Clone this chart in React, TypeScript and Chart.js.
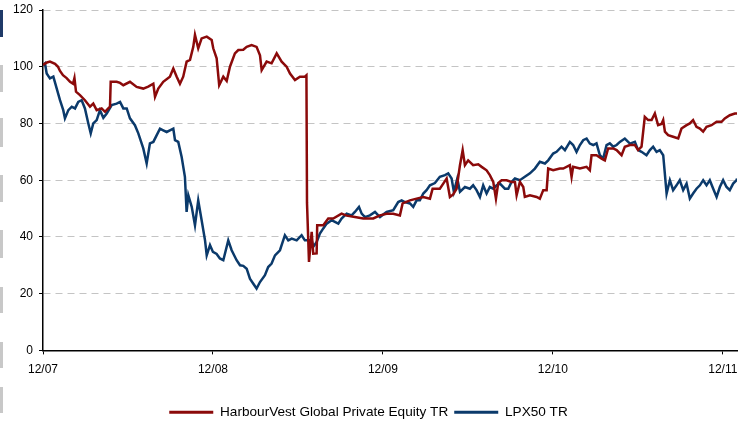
import { useEffect, useRef } from 'react';
import { Chart, registerables } from 'chart.js';

Chart.register(...registerables);

// months since Dec 2007
const hvMonths = [
  0, 0.28, 0.49, 0.85, 1.06, 1.2, 1.41, 1.67, 1.91, 2.12, 2.22, 2.33, 2.61, 2.96, 3.32, 3.55, 3.79, 4.14, 4.38, 4.61, 4.73,
  4.78, 5.2, 5.44, 5.67, 6.14, 6.61, 7.08, 7.43, 7.79, 7.91, 8.14, 8.49, 8.96, 9.2, 9.44, 9.67, 9.9, 10.14, 10.38, 10.61,
  10.73, 10.96, 11.2, 11.56, 11.91, 12.02, 12.26, 12.44, 12.73, 12.97, 13.2, 13.55, 13.79, 14.14, 14.38, 14.73, 15.08,
  15.32, 15.44, 15.79, 16.14, 16.5, 16.85, 17.2, 17.44, 17.79, 18.14, 18.49, 18.6, 18.64, 18.78, 18.97, 19.08, 19.32,
  19.36, 19.79, 20.14, 20.49, 21.08, 21.44, 22.02, 22.61, 23.32, 23.79, 24.26, 24.73, 25.2, 25.39, 25.91, 26.38, 26.85,
  27.32, 27.51, 28.02, 28.26, 28.5, 28.73, 28.96, 29.2, 29.44, 29.63, 29.79, 30.02, 30.37, 30.73, 30.97, 31.32, 31.55,
  31.79, 31.98, 32.14, 32.38, 32.73, 33.08, 33.32, 33.44, 33.67, 33.91, 34.02, 34.38, 34.85, 35.08, 35.32, 35.56, 35.67,
  36.02, 36.49, 36.73, 37.2, 37.32, 37.43, 37.91, 38.38, 38.61, 38.73, 39.08, 39.44, 39.67, 39.9, 40.26, 40.5, 40.85,
  41.08, 41.44, 41.79, 42.02, 42.26, 42.49, 42.73, 42.97, 43.2, 43.43, 43.67, 43.79, 43.91, 44.14, 44.49, 44.85, 45.08,
  45.44, 45.67, 45.9, 46.14, 46.38, 46.61, 46.85, 47.2, 47.56, 47.91, 48.14, 48.49, 48.85, 49,
];
const hvValues = [
  100.6, 101.5, 101.8, 101, 100, 98.5, 97, 96, 94.7, 94, 96, 91.2, 90, 88.2, 85.9, 87, 84.7, 85.3, 84.1, 85.3, 85.9,
  94.7, 94.7, 94.3, 93.5, 94.7, 92.9, 92.3, 93, 94, 89.4, 92.3, 94.7, 96.5, 99.4, 96.5, 94, 96.5, 101.8, 102.4, 107,
  111.2, 106.5, 110, 110.6, 109.4, 106.5, 103, 93.5, 96.5, 95, 100, 104.7, 105.9, 106, 107, 107.6, 107,
  104, 98.8, 101.8, 101.2, 104.7, 101.8, 100, 97.6, 95.3, 96.5, 96.5, 97, 52, 31.2, 41.8, 34.1, 34.2,
  44.1, 44.1, 46.5, 46.5, 48.2, 47.5, 47, 46.5, 46.5, 47.6, 48.2, 48.2, 47.6, 51.8, 52.9, 53.5, 54.1,
  53.5, 57, 57, 58.8, 60.6, 54.1, 55, 57, 65.3, 70.6, 65.3, 67, 65.3, 65.6, 64.7, 63.5, 61.8,
  59.4, 53.5, 59, 60, 60, 59.4, 59.4, 54.7, 59.4, 57.6, 54.1, 54.7, 54.1, 53.5, 56.5, 56.5, 64.1,
  63.5, 64.1, 64.1, 65.3, 61.2, 64.7, 64.1, 64.7, 63.5, 68.8, 68.8, 67.6, 67, 71.2, 71.2, 70.6, 68.8,
  71.8, 72.4, 72.4, 70.6, 71.8, 82.3, 81.2, 81.2, 83.5, 79.4, 79.8, 81.2, 77.1, 75.9, 75.3, 74.7, 78.2,
  79.4, 80, 81.2, 78.8, 78.2, 77.1, 78.8, 79.4, 80.6, 80.6, 81.8, 82.9, 83.5, 83.5,
];

const lpxMonths = [
  0, 0.14, 0.26, 0.49, 0.73, 0.97, 1.2, 1.43, 1.55, 1.79, 2.03, 2.26, 2.49, 2.73, 2.96, 3.2, 3.37, 3.55, 3.79, 4.02,
  4.26, 4.5, 4.85, 5.2, 5.44, 5.67, 5.91, 6.14, 6.49, 6.73, 7.08, 7.32, 7.55, 7.79, 8.03, 8.26, 8.49, 8.73, 8.96, 9.2,
  9.32, 9.55, 9.79, 10.02, 10.14, 10.26, 10.5, 10.73, 10.96, 11.2, 11.44, 11.56, 11.79, 12, 12.26, 12.49, 12.73, 13.08,
  13.32, 13.67, 13.91, 14.14, 14.38, 14.61, 14.85, 15.08, 15.32, 15.67, 15.9, 16.14, 16.38, 16.73, 17.08, 17.32, 17.56,
  17.91, 18.26, 18.49, 18.73, 18.97, 19.08, 19.32, 19.55, 19.79, 20.03, 20.38, 20.61, 20.85, 21.08, 21.44, 21.79, 22.02,
  22.31, 22.5, 22.73, 23.08, 23.44, 23.79, 24.26, 24.73, 25.08, 25.32, 25.55, 25.91, 26.14, 26.38, 26.61, 26.85, 27.08,
  27.32, 27.67, 28.02, 28.38, 28.61, 28.85, 29.01, 29.25, 29.44, 29.79, 30.14, 30.37, 30.61, 30.85, 31.08, 31.32, 31.55,
  31.79, 32.03, 32.26, 32.61, 32.85, 33.08, 33.32, 33.67, 34.02, 34.38, 34.73, 35.08, 35.44, 35.67, 36.02, 36.26, 36.61,
  36.85, 37.2, 37.43, 37.67, 37.91, 38.14, 38.38, 38.61, 38.85, 39.08, 39.32, 39.55, 39.79, 40.02, 40.26, 40.5, 40.73,
  41.08, 41.44, 41.79, 42.02, 42.26, 42.61, 42.85, 43.08, 43.32, 43.55, 43.79, 44.03, 44.26, 44.49, 44.73, 44.96, 45.2,
  45.44, 45.67, 45.9, 46.14, 46.38, 46.61, 46.85, 47.08, 47.32, 47.56, 47.79, 48.02, 48.26, 48.49, 48.73, 48.97, 49,
];
const lpxValues = [
  100.6, 101.2, 97.6, 95.9, 96.5, 92.3, 88.2, 84.7, 81.8, 84.7, 85.9, 85.3, 87.6, 88.2, 85.3, 80, 76.5, 80, 81.2, 84.7,
  82, 83.5, 86.5, 87, 87.6, 85.3, 85.3, 81.8, 79.4, 76.5, 71.2, 65.9, 73, 73.5, 75.9, 78.2, 77.6, 77, 77.6, 78.2,
  74.1, 73.5, 68.2, 61.2, 48.8, 54.7, 50.6, 44.1, 52.9, 45.9, 38.8, 33.5, 37.1, 34.7, 34, 32.4, 31.8, 38.8,
  35.3, 31.8, 30, 29.8, 28.8, 25.3, 23.5, 21.8, 24.1, 26.5, 29.4, 30.6, 33.5, 35.3, 40.6, 38.8, 39.4,
  38.8, 40.6, 38.8, 38.8, 38.8, 36.5, 38.2, 41.2, 43, 44.7, 45.9, 45.3, 44.7, 46.5, 48.2, 47.6, 48.8,
  50.6, 48.2, 47, 47.6, 48.8, 47, 48.8, 49.4, 52.3, 52.9, 52.3, 51.8, 50.6, 52.9, 52.9, 55.3, 56.5,
  58.2, 59, 61.2, 61.8, 62.4, 60.6, 55.9, 60.6, 55.9, 57.6, 57, 58.2, 56.5, 54.1, 58.2, 55.3, 57.6,
  57, 58.2, 58.8, 57, 57, 59.4, 60.6, 60, 61.2, 62.4, 64.1, 66.5, 65.9, 67, 69.4, 70, 71.8,
  70.6, 73.5, 72.4, 70, 72.4, 74.1, 74.7, 72.9, 72.4, 73, 68.8, 67.6, 72.4, 73, 71.8, 72.4, 73.5,
  74.7, 72.9, 73.5, 70.6, 70, 68.8, 70.6, 71.8, 70, 70.6, 68.8, 55.3, 60, 56.5, 58.2, 60, 56.5,
  58.8, 53.5, 55.3, 57, 58.2, 60, 58.2, 60, 57, 54.1, 57.6, 60, 57.6, 56.5, 58.8, 60, 60.6,
];

const xTickMonths = [0, 12, 24, 36, 48];
const xTickLabels = ['12/07', '12/08', '12/09', '12/10', '12/11'];
const seriesLabels = ['HarbourVest Global Private Equity TR', 'LPX50 TR'];

const RED = '#8B0A0A';
const BLUE = '#0B3A6B';
const FONT = 'Liberation Sans, Arial, Helvetica, sans-serif';

const edgeMarks = [
  { top: 10, height: 27, color: '#1F3A68' },
  { top: 65, height: 27, color: '#C8C8C8' },
  { top: 118, height: 29, color: '#C8C8C8' },
  { top: 175, height: 27, color: '#C8C8C8' },
  { top: 230, height: 28, color: '#C8C8C8' },
  { top: 287, height: 26, color: '#C8C8C8' },
  { top: 342, height: 26, color: '#C8C8C8' },
  { top: 387, height: 26, color: '#C8C8C8' },
];

export default function App() {
  const ref = useRef<HTMLCanvasElement>(null);
  useEffect(() => {
    const chart = new Chart(ref.current!, {
      type: 'line',
      data: {
        datasets: [
          {
            label: seriesLabels[0],
            data: hvMonths.map((m, i) => ({ x: m, y: hvValues[i] })),
            borderColor: RED,
            backgroundColor: RED,
            borderWidth: 2.5,
            pointRadius: 0,
            tension: 0,
          },
          {
            label: seriesLabels[1],
            data: lpxMonths.map((m, i) => ({ x: m, y: lpxValues[i] })),
            borderColor: BLUE,
            backgroundColor: BLUE,
            borderWidth: 2.5,
            pointRadius: 0,
            tension: 0,
          },
        ],
      },
      options: {
        animation: false,
        responsive: false,
        layout: { padding: { left: 0, right: 10, top: 10, bottom: 0 } },
        plugins: {
          tooltip: { enabled: false },
          legend: {
            position: 'bottom',
            labels: {
              boxWidth: 44,
              boxHeight: 3,
              padding: 6,
              color: '#000',
              font: { family: FONT, size: 13.6 },
              generateLabels: (c: any) =>
                Chart.defaults.plugins.legend.labels.generateLabels(c).map((l: any) => ({ ...l, lineWidth: 0 })),
            },
          },
        },
        scales: {
          x: {
            type: 'linear',
            min: 0,
            max: 49,
            afterBuildTicks: (s: any) => {
              s.ticks = xTickMonths.map((v) => ({ value: v }));
            },
            afterFit: (s: any) => {
              s.height = 49;
              s.paddingLeft = 0;
              s.paddingRight = 0;
            },
            ticks: {
              autoSkip: false,
              maxRotation: 0,
              padding: 8,
              color: '#000',
              font: { family: FONT, size: 12 },
              callback: (v: any) => {
                const i = xTickMonths.indexOf(Number(v));
                return i >= 0 ? xTickLabels[i] : '';
              },
            },
            grid: { drawOnChartArea: false, tickLength: 4, tickColor: '#000' },
            border: { color: '#000', width: 1.5 },
          },
          y: {
            min: 0,
            max: 120,
            afterFit: (s: any) => {
              s.width = 43;
              s.paddingTop = 0;
              s.paddingBottom = 0;
            },
            ticks: { stepSize: 20, padding: 6, color: '#000', font: { family: FONT, size: 12 } },
            grid: { color: '#C4C4C4', lineWidth: 1, tickColor: '#000', tickLength: 4 },
            border: { color: '#000', width: 1.5, dash: [7, 5] },
          },
        },
      },
    });
    return () => chart.destroy();
  }, []);
  return (
    <div
      style={{ position: 'fixed', left: 0, top: 0, width: 747, height: 423, background: '#fff', overflow: 'hidden' }}
    >
      <canvas ref={ref} width={747} height={429} style={{ display: 'block' }} />
      {edgeMarks.map((m, i) => (
        <div
          key={i}
          style={{ position: 'absolute', left: 0, top: m.top, width: 3, height: m.height, background: m.color }}
        />
      ))}
    </div>
  );
}
